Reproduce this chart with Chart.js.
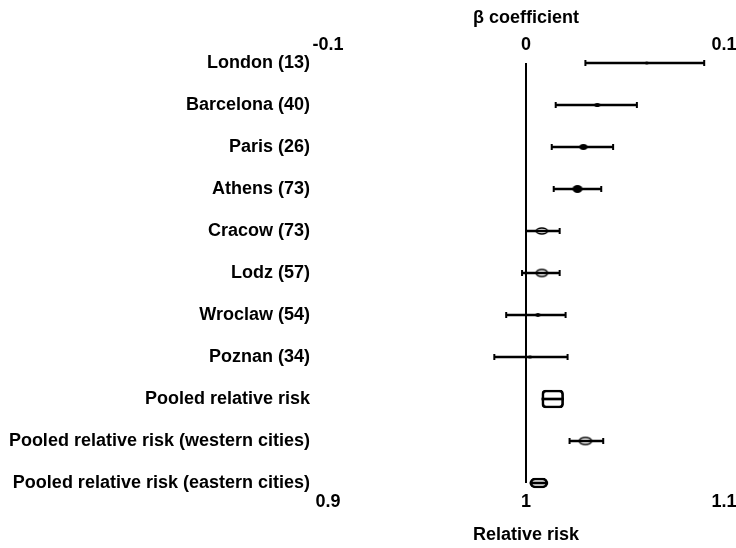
<!DOCTYPE html>
<html lang="en">
<head>
<meta charset="UTF-8">
<title>Relative risk by city</title>
<script src="https://cdn.jsdelivr.net/npm/chart.js@4.4.1/dist/chart.umd.min.js"></script>
<style>
  html, body { margin: 0; padding: 0; background: #fff; }
  #wrap { position: relative; width: 736px; height: 548px; }
</style>
</head>
<body>
<div id="wrap"><canvas id="chart"></canvas></div>
<script>
// data (beta coefficient scale)
const cities = ['London (13)', 'Barcelona (40)', 'Paris (26)', 'Athens (73)', 'Cracow (73)', 'Lodz (57)',
    'Wroclaw (54)', 'Poznan (34)', 'Pooled relative risk', 'Pooled relative risk (western cities)',
    'Pooled relative risk (eastern cities)'];
const betaLow  = [0.030, 0.015, 0.013, 0.014, 0.000, -0.002, -0.010, -0.016, 0.008, 0.022, 0.002];
const betaHigh = [0.090, 0.056, 0.044, 0.038, 0.017, 0.017, 0.020, 0.021, 0.019, 0.039, 0.011];
const betaEst  = [0.061, 0.036, 0.029, 0.026, 0.008, 0.008, 0.006, 0.002, null, 0.030, null];
const betaTicks = [-0.1, 0, 0.1];
const betaTickLabels = ['-0.1', '0', '0.1'];
const rrTicks = [0.9, 1, 1.1];
const rrTickLabels = ['0.9', '1', '1.1'];

// marker look per row: [width, height, filled]
const markerLook = [[3, 3, true], [6, 4, true], [8, 6, true], [10, 8, true], [11, 6, false], [11, 7, false],
    [5, 4, true], [4, 3, true], null, [12, 7, false], null];
const pooledRow = 8;
const easternRow = 10;

Chart.defaults.font.family = "'Liberation Sans', Arial, sans-serif";
Chart.defaults.font.weight = 'bold';
Chart.defaults.font.size = 18;
Chart.defaults.color = '#000';

function ovalMarker(look) {
    const c = document.createElement('canvas');
    if (!look) { c.width = 1; c.height = 1; return c; }
    const [w, h, filled] = look;
    c.width = w + 4;
    c.height = h + 4;
    const g = c.getContext('2d');
    g.beginPath();
    g.ellipse(c.width / 2, c.height / 2, w / 2, h / 2, 0, 0, Math.PI * 2);
    if (filled) {
        g.fillStyle = '#000';
        g.fill();
    } else {
        g.lineWidth = 1.6;
        g.strokeStyle = '#000';
        g.stroke();
    }
    return c;
}

function onlyRow(row) {
    return cities.map((c, i) => i === row ? [betaLow[i], betaHigh[i]] : null);
}

// x axes: fixed height, and no extra side padding for the end labels
function fitX(height) {
    return s => {
        s.height = height;
        s.paddingLeft = 0;
        s.paddingRight = 0;
    };
}

// little end caps on the confidence intervals
const errorCaps = {
    id: 'errorCaps',
    afterDatasetsDraw(chart) {
        const { ctx, scales: { x, y } } = chart;
        ctx.save();
        ctx.strokeStyle = '#000';
        ctx.lineWidth = 2;
        cities.forEach((c, i) => {
            if (i === pooledRow || i === easternRow) return;
            const py = y.getPixelForValue(i);
            [betaLow[i], betaHigh[i]].forEach(v => {
                const px = x.getPixelForValue(v);
                ctx.beginPath();
                ctx.moveTo(px, py - 3);
                ctx.lineTo(px, py + 3);
                ctx.stroke();
            });
        });
        ctx.restore();
    }
};

new Chart(document.getElementById('chart'), {
    type: 'bar',
    data: {
        labels: cities,
        datasets: [{
            type: 'line',
            indexAxis: 'y',
            data: betaEst,
            showLine: false,
            pointStyle: markerLook.map(ovalMarker),
            pointRadius: 5,
            clip: false,
            order: 1
        }, {
            data: cities.map((c, i) => [betaLow[i], betaHigh[i]]),
            backgroundColor: '#000',
            borderWidth: 0,
            barThickness: 2,
            grouped: false,
            clip: false,
            order: 2
        }, {
            data: onlyRow(pooledRow),
            backgroundColor: 'rgba(0,0,0,0)',
            borderColor: '#000',
            borderWidth: 2,
            borderRadius: 4,
            borderSkipped: false,
            barThickness: 18,
            grouped: false,
            clip: false,
            order: 3
        }, {
            data: onlyRow(easternRow),
            backgroundColor: 'rgba(0,0,0,0)',
            borderColor: '#000',
            borderWidth: 2,
            borderRadius: 5,
            borderSkipped: false,
            barThickness: 10,
            grouped: false,
            clip: false,
            order: 3
        }]
    },
    options: {
        indexAxis: 'y',
        responsive: true,
        maintainAspectRatio: false,
        animation: false,
        layout: { padding: { left: 0, right: 12, top: 0, bottom: 0 } },
        plugins: {
            legend: { display: false },
            tooltip: { enabled: false }
        },
        scales: {
            x: {
                type: 'linear',
                position: 'top',
                min: -0.1,
                max: 0.1,
                afterBuildTicks: s => { s.ticks = betaTicks.map(v => ({ value: v })); },
                afterFit: fitX(63),
                ticks: {
                    padding: 7,
                    callback: (v, i) => betaTickLabels[i]
                },
                grid: {
                    drawTicks: false,
                    lineWidth: 2,
                    color: ctx => ctx.tick && ctx.tick.value === 0 ? '#000' : 'rgba(0,0,0,0)'
                },
                border: { display: false },
                title: {
                    display: true,
                    text: 'β coefficient',
                    padding: { top: 7, bottom: 0 }
                }
            },
            x2: {
                type: 'linear',
                position: 'bottom',
                min: 0.9,
                max: 1.1,
                afterBuildTicks: s => { s.ticks = rrTicks.map(v => ({ value: v })); },
                afterFit: fitX(65),
                ticks: {
                    padding: 8,
                    callback: (v, i) => rrTickLabels[i]
                },
                grid: { display: false, drawTicks: false },
                border: { display: false },
                title: {
                    display: true,
                    text: 'Relative risk',
                    padding: { top: 0, bottom: 2 }
                }
            },
            y: {
                type: 'category',
                offset: false,
                afterFit: s => { s.width = 328; },
                ticks: { padding: 10 },
                grid: { display: false },
                border: { display: false }
            }
        }
    },
    plugins: [errorCaps]
});
</script>
</body>
</html>
